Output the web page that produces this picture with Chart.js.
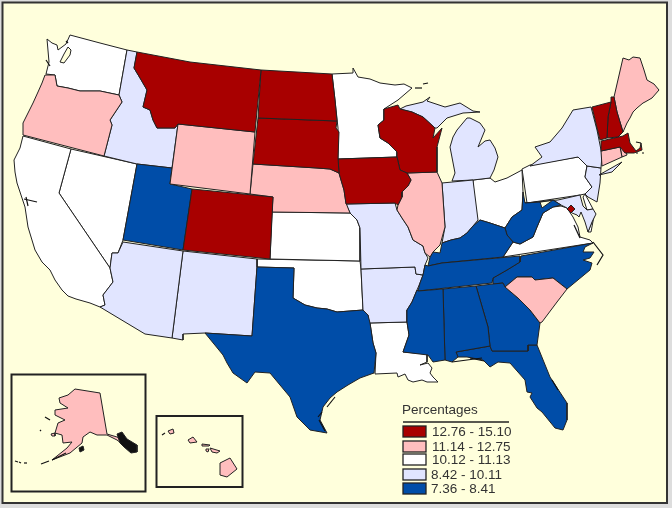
<!DOCTYPE html>
<html><head><meta charset="utf-8">
<style>html,body{margin:0;padding:0;background:#fff}canvas{display:block}</style>
<script src="https://cdn.jsdelivr.net/npm/chart.js@4"></script>
</head><body><canvas id="c" width="672" height="508"></canvas>
<script>
// State outlines, as flat x,y lists in the map's projected units
const WA=[70,35,100,43,127,50,119,95,100,91,80,91,68,88,57,86,55,75,46,74,49,62,47,39,52,43,57,45,58,50,62,47,66,44];
const OR=[45,75,55,75,57,86,68,88,80,91,100,91,119,95,122,102,110,120,112,125,104,156,23,135,23,123,28,113,33,103,38,92,42,83];
const CA=[23,136,71,149,59,193,110,268,113,282,103,295,105,305,100,307,90,303,76,299,68,296,62,290,55,280,50,270,42,262,35,250,28,227,25,207,17,183,15,172,14,160,20,148];
const NV=[71,149,137,164,123,240,118,253,112,253,110,268,59,193];
const ID=[127,50,137,52,134,68,140,78,147,90,143,107,150,110,153,120,157,128,175,128,178,124,172,168,137,164,104,156,112,125,110,120,122,102,119,95];
const MT=[137,52,190,62,261,70,255,132,178,124,175,128,157,128,153,120,150,110,143,107,147,90,140,78,134,68];
const WY=[178,124,255,132,250,194,170,184];
const UT=[137,164,172,168,170,184,192,189,183,250,123,240];
const CO=[192,189,273,197,270,259,183,250];
const ND=[261,70,332,74,335,100,337,121,258,118];
const SD=[258,118,337,121,336,128,339,132,338,158,339,173,330,169,317,168,253,164];
const NE=[253,164,317,168,330,169,339,173,341,180,344,190,346,203,350,213,272,212,273,197,250,194];
const KS=[272,212,350,213,357,220,360,228,360,261,270,259];
const OK=[257,259,360,261,361,269,363,310,350,311,337,312,327,309,317,308,305,305,293,298,294,268,257,267];
const TX=[257,267,294,268,293,298,305,305,317,308,327,309,337,312,350,311,363,310,368,315,370,323,373,343,376,353,374,373,360,378,348,385,337,392,330,398,323,407,320,420,327,433,310,430,297,417,290,397,280,385,270,373,255,372,247,383,233,373,227,363,223,355,205,333,252,336];
const NM=[183,251,257,259,257,267,252,336,205,333,183,334,183,340,172,338];
const AZ=[123,242,183,251,172,338,145,334,100,307,105,305,103,295,113,282,110,268,112,253,118,253];
const MN=[332,74,353,73,353,68,358,77,370,79,380,83,395,85,404,84,412,88,398,100,384,109,384,120,378,125,380,138,388,143,397,152,397,157,338,159,338,128,335,100];
const WI=[384,109,398,105,400,109,412,112,423,117,435,128,433,138,442,128,437,147,437,172,407,173,400,170,397,157,397,152,388,143,380,138,378,125,384,120];
const IA=[338,159,397,157,400,170,407,173,411,180,408,186,402,192,402,197,398,205,395,203,346,204,344,190,341,180,339,173];
const IL=[407,173,437,172,442,183,445,227,440,245,433,252,430,257,425,253,423,246,413,240,408,227,402,218,397,210,398,205,402,197,402,192,408,186,411,180];
const IN=[442,183,473,180,478,220,473,226,467,233,460,238,451,240,442,243,445,227];
const MI=[467,118,470,118,480,123,485,130,478,147,485,141,490,140,495,148,498,157,494,170,490,178,473,180,452,181,455,173,450,147,453,137,457,130];
const UP=[400,109,406,106,423,102,430,97,427,101,445,107,460,103,473,111,480,112,463,113,447,118,437,128,435,128,423,117,412,112];
const MO=[346,204,395,203,397,210,402,218,408,227,413,240,423,246,425,253,428,258,425,265,423,275,416,274,415,267,361,269,360,228,357,220,350,213];
const AR=[361,269,415,267,416,274,423,275,420,283,417,290,412,302,407,310,407,322,369,323,368,315,363,310];
const LA=[369,323,407,322,409,335,403,352,427,354,427,362,420,365,428,363,432,368,430,373,433,377,438,382,427,382,422,380,413,382,408,380,405,374,398,377,397,373,375,374,376,353,373,343,370,323];
const MS=[418,291,443,289,445,360,433,362,428,355,403,352,409,335,407,322,407,310,412,302,417,290];
const AL=[443,289,476,286,488,327,490,346,456,352,458,357,452,362,445,360];
const GA=[476,286,493,284,503,283,505,287,518,298,530,310,540,323,537,345,528,345,528,351,492,351,490,346,488,327];
const FL=[456,352,490,346,492,351,528,351,528,345,537,345,550,377,567,403,567,420,563,430,555,428,542,412,537,408,530,397,532,393,527,392,525,380,510,363,498,362,490,367,483,360,467,357,458,357];
const SC=[505,287,517,277,532,277,535,280,553,278,567,289,557,302,542,322,540,323,530,310,518,298];
const NC=[521,256,593,243,585,247,583,252,594,252,590,258,583,260,592,263,590,270,567,289,553,278,535,280,532,277,517,277,505,287,503,283,493,284,493,278,507,270,520,262];
const TN=[428,266,442,263,520,256,520,262,507,270,493,278,492,283,418,291,420,283,423,275,425,265];
const KY=[428,266,430,257,433,252,440,253,442,243,451,240,460,238,467,233,473,226,480,220,490,223,505,228,507,235,513,242,503,257,442,263];
const WV=[523,192,525,203,540,202,542,208,553,200,561,205,553,207,543,213,537,227,533,237,520,244,513,242,507,235,505,228,512,217,522,210];
const VA=[503,257,513,242,520,244,533,237,537,227,543,213,553,207,561,206,567,208,573,217,578,227,580,237,590,240,593,243];
const OH=[473,180,490,178,495,182,507,178,522,170,523,192,522,210,512,217,505,228,490,223,480,220,473,226];
const PA=[522,169,530,165,578,157,587,166,585,177,592,187,585,194,580,195,527,203];
const NY=[530,166,542,157,535,147,550,142,562,128,573,110,591,107,597,130,602,155,601,168,587,166,578,157];
const LI=[599,175,622,162,612,172];
const NJ=[587,166,601,168,600,183,597,202,588,197,585,194,592,187,585,177];
const DE=[585,194,593,209,587,210,583,197];
const MD=[558,200,580,195,583,206,587,210,593,209,596,214,592,222,588,232,585,222,581,212,579,217,577,215,572,213,567,208,561,205,553,200,541,202,525,203];
const ES=[588,232,592,222,594,216,591,232];
const DC=[571,205,575,209,571,213,567,209];
const VT=[592,107,611,102,608,117,607,138,600,140,597,128];
const NH=[611,97,614,97,617,112,623,132,618,137,607,138,608,117,611,102];
const ME=[614,97,623,58,629,60,633,57,640,58,644,70,647,80,654,84,659,90,652,98,645,102,643,103,637,108,633,112,630,118,627,123,623,132,617,112];
const MA=[601,141,623,136,628,133,630,143,636,151,640,148,641,143,642,150,634,153,625,153,620,147,601,151];
const CT=[601,151,620,147,622,157,602,166];
const RI=[620,147,625,147,627,155,622,157];
const AK=[75,389,100,393,107,434,117,437,137,448,132,452,117,440,107,435,97,435,90,432,83,437,82,443,70,453,52,460,67,448,72,442,63,443,62,435,55,433,58,423,65,420,55,415,55,410,68,408,60,403,59,398,68,395];
const AK_SE=[117,434,122,432,127,439,137,445,137,452,131,453,124,447,120,443];
const AK_KODIAK=[79,448,83,446,84,450,80,452];
const AK_NUNIVAK=[51,434,55,433,55,436,52,436];
const HI_BIG=[220,463,230,458,237,469,227,477,220,475];
const HI_MAUI=[210,448,220,451,217,453,212,452];
const HI_OAHU=[188,440,193,437,197,442,190,443];
const HI_KAUAI=[168,431,173,429,174,433,170,434];
const HI_LANAI=[206,449,209,449,208,452,206,451];
const HI_MOLOKAI=[202,444,210,445,209,446,202,446];
const SOUND=[60,62,64,54,68,47,71,50,70,55,64,63];
// Dark coastal detail: islands, barrier beaches and inlets
const DETAILS=[
 [66,41,68,43],[46,60,50,66],
 [422,88,415,88],[423,84,428,83],[24,199,37,202],[26,197,28,206],
 [45,417,50,420],[40,430,41,431],[15,461,18,462],[19,462,21,463],[24,463,27,463],
 [41,464,49,461],[52,460,66,453],[162,435,165,433],
 [641,143,636,142],[636,153,638,153],[642,153,644,153],
 [593,242,603,255,597,265],[580,238,574,225],[452,362,482,358],
 [470,358,484,361],[552,380,558,390],[318,417,322,412],[327,407,335,397],[319,420,325,431]
];

const classRed=[MT,ND,SD,CO,IA,WI,VT,NH,MA,DC];
const classPink=[OR,WY,NE,IL,ME,CT,RI,SC,AK,HI_BIG,HI_MAUI,HI_OAHU,HI_KAUAI,HI_LANAI,HI_MOLOKAI,AK_NUNIVAK];
const classWhite=[WA,CA,NV,MN,KS,OK,LA,OH,PA,VA,DE,ES];
const classLav=[ID,AZ,NM,MO,AR,IN,MI,UP,NY,LI,NJ,MD];
const classBlue=[UT,TX,MS,AL,GA,FL,TN,KY,WV,NC];
const classDark=[AK_SE,AK_KODIAK];
const classBg=[SOUND];

const legendTitle='Percentages';
const legendLabels=['12.76 - 15.10','11.14 - 12.75','10.12 - 11.13','8.42 - 10.11','7.36 - 8.41'];
const legendColors=['#A80000','#FFBEBE','#FFFFFF','#E1E5FF','#004DA8'];
const bg='#FFFFDC';

function pts(a){const o=[];for(let i=0;i<a.length;i+=2)o.push({x:a[i],y:a[i+1]});return o;}
function poly(a,color){const p=pts(a);p.push(p[0]);
  return {data:p,showLine:true,fill:'shape',backgroundColor:color,borderColor:'#222',borderWidth:1,pointRadius:0,tension:0,borderJoinStyle:'round'};}
const ds=[];
DETAILS.forEach(a=>ds.push({data:pts(a),showLine:true,fill:false,borderColor:'#111',borderWidth:1.2,pointRadius:0}));
[[classBg,bg],[classDark,'#111'],[classRed,legendColors[0]],[classPink,legendColors[1]],[classBlue,legendColors[4]],[classLav,legendColors[3]],[classWhite,legendColors[2]]]
 .forEach(([list,col])=>list.forEach(a=>ds.push(poly(a,col))));

const frame={id:'frame',
 beforeDraw(ch){const c=ch.ctx;c.save();
  c.fillStyle='#ddd';c.fillRect(0,0,672,508);
  c.fillStyle=bg;c.fillRect(3,3,664,500);
  c.strokeStyle='#333';c.lineWidth=2;
  c.strokeRect(2.5,2.5,664.5,500.5);
  c.restore();},
 afterDraw(ch){const c=ch.ctx;c.save();
  c.strokeStyle='#222';c.lineWidth=2;
  c.strokeRect(11.5,374.5,134,117);c.strokeRect(156.5,416,86,71);
  c.fillStyle='#333';c.font='13.5px "Liberation Sans"';c.textBaseline='middle';
  c.fillText(legendTitle,402,410);
  c.strokeStyle='#222';c.lineWidth=1.5;c.beginPath();c.moveTo(403,422);c.lineTo(509,422);c.stroke();
  const ys=[426,441,454,469,483],tx=[432,432,432,431,431];
  legendLabels.forEach((t,i)=>{
   c.fillStyle=legendColors[i];c.fillRect(403,ys[i],23,11);
   c.strokeStyle='#222';c.lineWidth=1.3;c.strokeRect(403,ys[i],23,11);
   c.fillStyle='#333';c.fillText(t,tx[i],ys[i]+6);
  });
  c.restore();}
};
new Chart(document.getElementById('c'),{type:'scatter',data:{datasets:ds},plugins:[frame],
 options:{responsive:false,animation:false,devicePixelRatio:1,layout:{padding:0},
  plugins:{legend:{display:false},tooltip:{enabled:false},title:{display:false}},
  scales:{x:{type:'linear',min:0,max:672,display:false},y:{type:'linear',min:0,max:508,reverse:true,display:false}}}});
</script></body></html>
